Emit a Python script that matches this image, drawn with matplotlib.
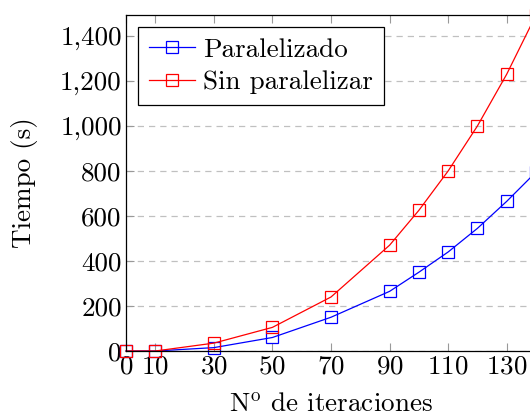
import matplotlib
matplotlib.use("Agg")
from matplotlib import pyplot as plt
from matplotlib.ticker import FuncFormatter

plt.rcParams['font.family'] = ['cmr10', 'DejaVu Serif']
plt.rcParams['mathtext.fontset'] = 'cm'
plt.rcParams['axes.formatter.use_mathtext'] = True

iteraciones = [0, 10, 30, 50, 70, 90, 100, 110, 120, 130, 140]
paralelizado = [0, 0, 15, 60, 150, 265, 350, 440, 545, 665, 795]
sin_paralelizar = [0, 0, 35, 105, 240, 470, 625, 800, 1000, 1230, 1493]
xticks = [0, 10, 30, 50, 70, 90, 110, 130]
yticks = [0, 200, 400, 600, 800, 1000, 1200, 1400]

fs = 19.5

fig = plt.figure(figsize=(5.3, 4.17), dpi=100)
ax = fig.add_axes([126 / 530, 66 / 417, 410 / 530, 336 / 417])

ax.plot(iteraciones, paralelizado, color='blue', lw=0.9, marker='s',
        mfc='none', mec='blue', ms=8.5, mew=0.9, label='Paralelizado',
        clip_on=False)
ax.plot(iteraciones, sin_paralelizar, color='red', lw=0.9, marker='s',
        mfc='none', mec='red', ms=8.5, mew=0.9, label='Sin paralelizar',
        clip_on=False)

ax.set_xlim(0, 140)
ax.set_ylim(0, 1493)
ax.set_xticks(xticks)
ax.set_yticks(yticks)
ax.yaxis.set_major_formatter(FuncFormatter(lambda v, p: f"{v:,.0f}"))
ax.grid(axis='y', color='#c0c0c0', linestyle=(0, (5, 4)), lw=0.9)
ax.set_axisbelow(True)

ax.tick_params(direction='in', length=6, color='#999999', labelsize=fs,
               top=True, pad=3)
for s in ax.spines.values():
    s.set_linewidth(0.9)

ax.set_xlabel(r'N$^\mathrm{o}$ de iteraciones', fontsize=fs, labelpad=10)
ax.set_ylabel('Tiempo (s)', fontsize=fs, labelpad=16)

leg = ax.legend(loc='upper left', fontsize=fs, frameon=True, fancybox=False,
                edgecolor='black', framealpha=1, borderaxespad=0.45,
                handlelength=1.7, handletextpad=0.3, borderpad=0.4,
                labelspacing=0.3)
leg.get_frame().set_linewidth(0.9)

fig.savefig('out.png', dpi=100)
